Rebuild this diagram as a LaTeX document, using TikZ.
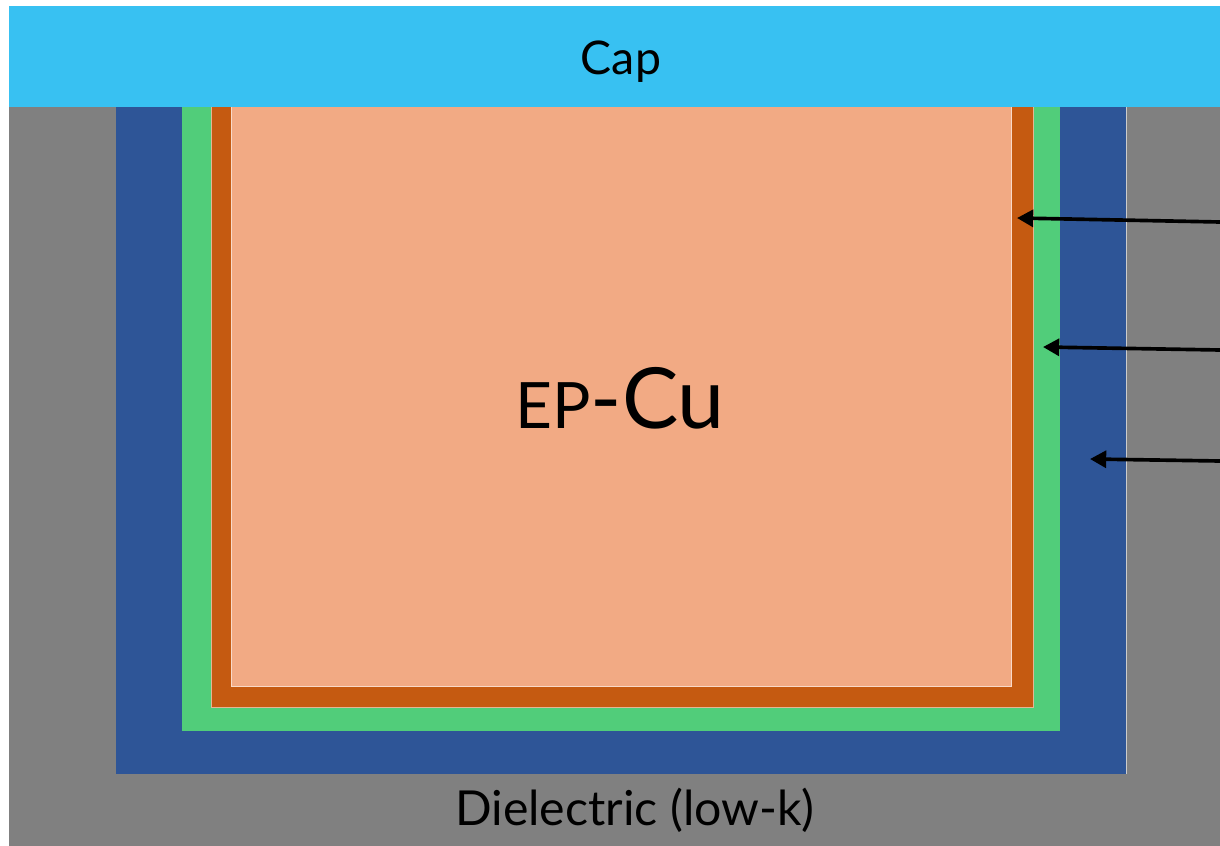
\documentclass[tikz,border=0pt]{standalone}
\usepackage{fontspec}
\setmainfont{Lato}
\usetikzlibrary{arrows.meta}
\definecolor{capblue}{RGB}{56,193,242}
\definecolor{dielgray}{RGB}{128,128,128}
\definecolor{barrierblue}{RGB}{46,85,151}
\definecolor{linergreen}{RGB}{81,205,122}
\definecolor{seedorange}{RGB}{197,90,17}
\definecolor{cupeach}{RGB}{242,170,132}

\begin{document}
\begin{tikzpicture}[x=0.025cm, y=-0.025cm,
    film/.style={draw=white!55!#1, line width=0.5pt, fill=#1},
    arr/.style={-{Triangle[length=11.5pt, width=12pt]}, line width=2.6pt, black},
    lbl/.style={anchor=base, inner sep=0pt, font=\fontsize{33}{36}\selectfont}
]
    \useasboundingbox (0,0) rectangle (1220,846);

    % Dielectric and trench layers
    \fill[dielgray] (9,107) rectangle (1220,846);
    \fill[barrierblue] (116,100) rectangle (1126,774);
    \draw[white!60!dielgray, line width=0.5pt] (1126,107) -- (1126,774);
    \fill[linergreen] (182,100) rectangle (1060,731);
    \draw[film=seedorange] (211,100) -- (211,707) -- (1033,707) -- (1033,100);
    \draw[film=cupeach] (231,100) -- (231,686) -- (1011,686) -- (1011,100);

    % Cap on top
    \fill[capblue] (9,6) rectangle (1220,107);

    % Labels
    \node[lbl] (cap) at (621,75) {Cap};
    \node[lbl, font=\fontsize{34.3}{38}\selectfont] (diel) at (635,825) {Dielectric (low-k)};
    \node[anchor=base, inner sep=0pt] (cu) at (620,428)
        {\fontsize{45.5}{48}\selectfont EP\fontsize{60}{64}\selectfont -Cu};

    % Arrows into the layers
    \coordinate (s1) at (1220,222);
    \coordinate (t1) at (1017,218);
    \coordinate (s2) at (1220,350);
    \coordinate (t2) at (1043,347);
    \coordinate (s3) at (1220,461);
    \coordinate (t3) at (1090,459);
    \foreach \i in {1,2,3}
        \draw[arr] (s\i) -- (t\i);
\end{tikzpicture}
\end{document}
